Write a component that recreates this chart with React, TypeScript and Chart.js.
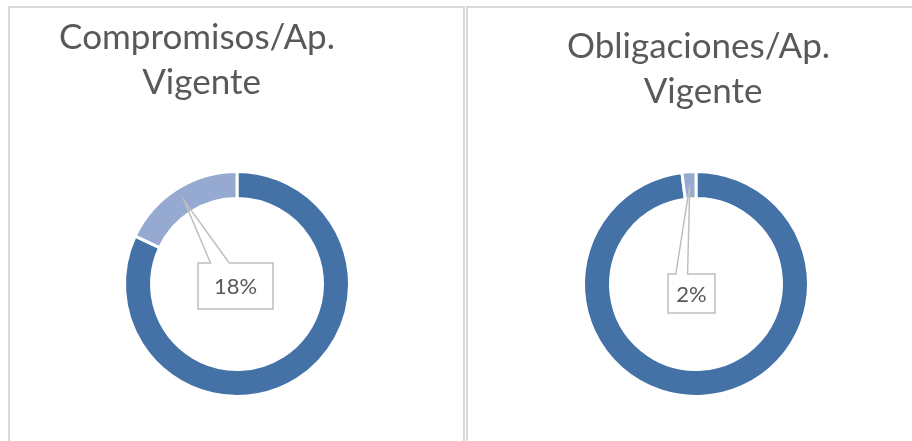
import React, { useEffect, useRef } from 'react';
import { Chart, registerables } from 'chart.js';

Chart.register(...registerables);

// ---- data ----
const categories = ['Saldo', 'Ejecutado'];
const compromisosValues = [82, 18];
const obligacionesValues = [98, 2];
const compromisosTitle = ['Compromisos/Ap. ', 'Vigente'];
const obligacionesTitle = ['Obligaciones/Ap. ', 'Vigente'];
const segmentColors = ['#4472a6', '#95a9d1'];

const TEXT_COLOR = '#595959';
const FONT = 'Lato, "Open Sans", sans-serif';

const panelTitlePlugin = {
  id: 'panelTitle',
  afterDraw(chart: any, _args: any, opts: any) {
    const { ctx, chartArea } = chart;
    const lines: string[] = opts.lines || [];
    ctx.save();
    ctx.font = `${opts.size}px ${FONT}`;
    ctx.fillStyle = TEXT_COLOR;
    ctx.textAlign = 'center';
    ctx.textBaseline = 'alphabetic';
    const cx = (chartArea.left + chartArea.right) / 2 + opts.dx;
    lines.forEach((l, i) => ctx.fillText(l, cx, opts.baseline + i * opts.lineHeight));
    ctx.restore();
  },
};

const calloutPlugin = {
  id: 'callout',
  afterDatasetsDraw(chart: any, _args: any, opts: any) {
    const { ctx } = chart;
    const meta = chart.getDatasetMeta(0);
    const arc: any = meta.data[opts.index];
    if (!arc) return;
    const data = chart.data.datasets[0].data as number[];
    const total = data.reduce((a, b) => a + b, 0);
    const text = Math.round((data[opts.index] / total) * 100) + '%';
    const tip = arc.tooltipPosition(false);
    const bx = arc.x + opts.dx;
    const by = arc.y + opts.dy;
    const w = opts.w;
    const h = opts.h;
    ctx.save();
    ctx.fillStyle = '#ffffff';
    ctx.fillRect(bx, by, w, h);
    ctx.beginPath();
    ctx.moveTo(bx + w / 6, by);
    ctx.lineTo(tip.x, tip.y);
    ctx.lineTo(bx + (w * 5) / 12, by);
    ctx.lineTo(bx + w, by);
    ctx.lineTo(bx + w, by + h);
    ctx.lineTo(bx, by + h);
    ctx.lineTo(bx, by);
    ctx.closePath();
    ctx.strokeStyle = '#bfbfbf';
    ctx.lineWidth = 1.5;
    ctx.lineJoin = 'miter';
    ctx.stroke();
    ctx.font = `${opts.size}px ${FONT}`;
    ctx.fillStyle = TEXT_COLOR;
    ctx.textAlign = 'center';
    ctx.textBaseline = 'middle';
    ctx.fillText(text, bx + w / 2, by + h / 2 + 1);
    ctx.restore();
  },
};

type PanelProps = {
  left: number;
  values: number[];
  title: string[];
  titleDx: number;
  titleBaseline: number;
  padLeft: number;
  callout: { dx: number; dy: number; w: number; h: number };
};

function DonutPanel(props: PanelProps) {
  const ref = useRef<HTMLCanvasElement | null>(null);
  useEffect(() => {
    if (!ref.current) return;
    const chart = new Chart(ref.current, {
      type: 'doughnut',
      data: {
        labels: categories,
        datasets: [
          {
            data: props.values,
            backgroundColor: segmentColors,
            borderColor: '#ffffff',
            borderWidth: 3,
          },
        ],
      },
      options: {
        responsive: false,
        animation: false,
        events: [],
        radius: 112.5,
        cutout: '76%',
        layout: { padding: { top: 150, bottom: 31, left: props.padLeft, right: 0 } },
        plugins: {
          legend: { display: false },
          tooltip: { enabled: false },
          title: { display: false },
          panelTitle: {
            lines: props.title,
            dx: props.titleDx,
            baseline: props.titleBaseline,
            lineHeight: 45,
            size: 35,
          },
          callout: { index: 1, size: 22, ...props.callout },
        } as any,
      } as any,
      plugins: [panelTitlePlugin, calloutPlugin] as any,
    });
    return () => chart.destroy();
  }, []);
  return (
    <div
      style={{
        position: 'absolute',
        left: props.left,
        top: 6,
        width: 457,
        height: 450,
        border: '2px solid #d9d9d9',
        boxSizing: 'border-box',
        background: '#fff',
      }}
    >
      <canvas ref={ref} width={453} height={433} style={{ position: 'absolute', left: 0, top: 0 }} />
    </div>
  );
}

export default function App() {
  return (
    <div
      style={{
        position: 'fixed',
        left: 0,
        top: 0,
        width: 912,
        height: 441,
        overflow: 'hidden',
        background: '#fff',
      }}
    >
      <DonutPanel
        left={8}
        values={compromisosValues}
        title={compromisosTitle}
        titleDx={-35.5}
        titleBaseline={41}
        padLeft={1}
        callout={{ dx: -39, dy: -21, w: 75, h: 46 }}
      />
      <DonutPanel
        left={466}
        values={obligacionesValues}
        title={obligacionesTitle}
        titleDx={7}
        titleBaseline={50}
        padLeft={3}
        callout={{ dx: -28, dy: -10, w: 47, h: 39 }}
      />
    </div>
  );
}
